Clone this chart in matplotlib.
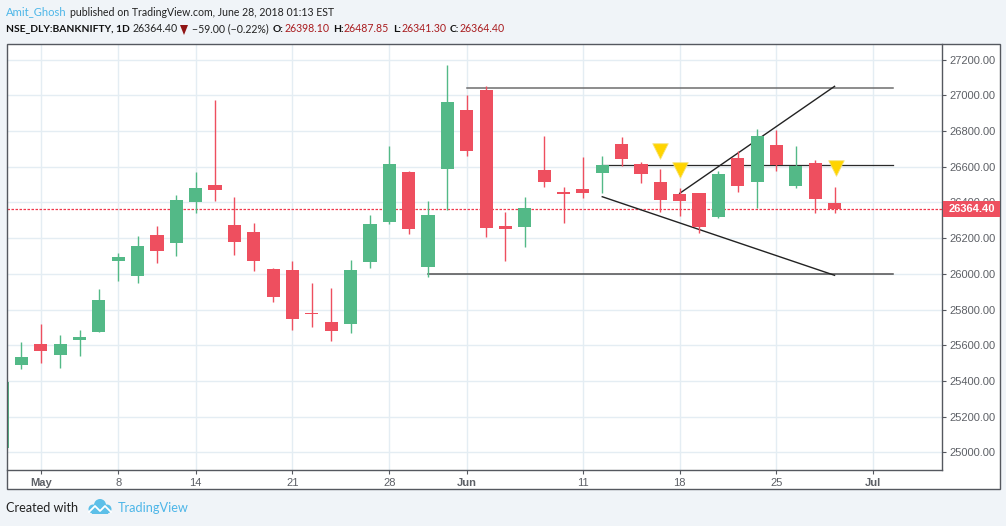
import numpy as np
import matplotlib
matplotlib.use("Agg")
import matplotlib.pyplot as plt
from matplotlib.patches import Rectangle, Circle, Polygon
from matplotlib.lines import Line2D

W, H = 1006, 526

opens = [25027, 25490, 25608, 25546, 25630, 25675, 26072, 25988, 26218, 26173, 26402, 26498,
         26274, 26235, 26027, 26022, 25781, 25731, 25720, 26067, 26290, 26570, 26039, 26587,
         26917, 27029, 26268, 26263, 26582, 26458, 26475, 26565, 26727, 26615, 26514, 26447,
         26453, 26319, 26649, 26514, 26722, 26492, 26621, 26398.10]
closes = [25395, 25535, 25569, 25608, 25647, 25854, 26095, 26156, 26128, 26414, 26481, 26470,
          26179, 26072, 25871, 25748, 25776, 25681, 26022, 26279, 26615, 26251, 26330, 26962,
          26688, 26257, 26251, 26369, 26514, 26447, 26453, 26610, 26643, 26559, 26414, 26408,
          26263, 26559, 26492, 26772, 26610, 26604, 26419, 26364.40]
highs = [25395, 25619, 25720, 25658, 25686, 25916, 26117, 26212, 26268, 26442, 26570, 26973,
         26430, 26285, 26033, 26072, 25949, 25921, 26078, 26330, 26716, 26576, 26408, 27169,
         27001, 27052, 26346, 26430, 26772, 26486, 26654, 26660, 26766, 26626, 26587, 26481,
         26453, 26576, 26688, 26811, 26805, 26716, 26638, 26487.85]
lows = [25027, 25468, 25501, 25473, 25540, 25675, 25960, 25949, 26061, 26100, 26341, 26408,
        26106, 26016, 25843, 25686, 25703, 25624, 25669, 26033, 26279, 26223, 25983, 26358,
        26660, 26207, 26072, 26151, 26486, 26285, 26425, 26453, 26604, 26509, 26346, 26324,
        26229, 26313, 26459, 26369, 26576, 26481, 26341, 26341.30]
last_close = 26364.40

price_ticks = list(range(25000, 27400, 200))
date_ticks = [2, 6, 10, 15, 20, 24, 30, 35, 40, 45]
date_labels = ["May", "8", "14", "21", "28", "Jun", "11", "18", "25", "Jul"]

# drawings: (x0, price0, x1, price1, colour, width)
trend_lines = [
    (24, 27040, 46, 27040, "#6e6e6e", 1.1),
    (31, 26610, 46, 26610, "#2a2a2a", 0.9),
    (22, 26002, 46, 26002, "#505050", 1.1),
    (35, 26451, 43, 27050, "#222222", 1.0),
    (31, 26432, 43, 25992, "#222222", 1.0),
]
marker_x = [34, 35, 43.05]
marker_y = [26688, 26582, 26590]

green = "#53b987"
red = "#ee4f5f"
grid = "#e4edf3"
frame = "#55585f"
grey = "#5d6066"
blue = "#4db6e8"
dark_red = "#a91c1f"
header_font = "Lato"

plt.rcParams["font.family"] = ["Liberation Sans", "DejaVu Sans"]

fig = plt.figure(figsize=(W / 100, H / 100), dpi=100, facecolor="#f0f4f8")


def px_text(x, y, s, **kw):
    kw.setdefault("va", "center")
    kw.setdefault("family", header_font)
    return fig.text(x / W, 1 - y / H, s, **kw)


def px_rect(x0, y0, x1, y1, **kw):
    r = Rectangle((x0 / W, 1 - y1 / H), (x1 - x0) / W, (y1 - y0) / H, transform=fig.transFigure, **kw)
    fig.add_artist(r)
    return r


px_rect(6.5, 44, 999.5, 489, facecolor="white", edgecolor="none", zorder=-1)

ax = fig.add_axes([7 / W, 1 - 470 / H, (942 - 7) / W, (470 - 44) / H], facecolor="white")
ax.set_xlim(0.253, 48.55)
ax.set_ylim(24902, 27287)

ax.set_axisbelow(True)
ax.grid(True, color=grid, lw=1.0)
ax.set_yticks(price_ticks)
ax.set_yticklabels(["%.2f" % p for p in price_ticks])
ax.yaxis.tick_right()
ax.set_xticks(date_ticks)
ax.set_xticklabels(date_labels)
ax.tick_params(axis="both", length=3, width=0.8, color=frame, labelcolor=grey, labelsize=8.0, pad=2.5)
ax.tick_params(axis="x", pad=2.5)
for lab in ax.get_xticklabels():
    if lab.get_text() in ("May", "Jun", "Jul"):
        lab.set_fontweight("bold")

for s in ("top", "left"):
    ax.spines[s].set_visible(False)
for s in ("right", "bottom"):
    ax.spines[s].set_color(frame)
    ax.spines[s].set_linewidth(1.0)

ax.axhline(last_close, color="#f0394c", lw=0.9, ls=(0, (2, 1.2)), zorder=2)

for x0, y0, x1, y1, col, lw in trend_lines:
    ax.plot([x0, x1], [y0, y1], color=col, lw=lw, zorder=2.5)

idx = np.arange(len(opens))
colors = [green if c >= o else red for o, c in zip(opens, closes)]
tops = np.maximum(opens, closes)
bots = np.minimum(opens, closes)
ax.vlines(idx, lows, highs, colors=colors, lw=1.0, zorder=3)
ax.bar(idx, tops - bots, bottom=bots, width=0.68, color=colors, zorder=3)

ax.scatter(marker_x, marker_y, marker="v", s=125, color="#ffd400", edgecolor="#f5e27a", lw=0.6, zorder=5)

# outer frame
px_rect(6.5, 44, 999.5, 489, facecolor="none", edgecolor=frame, lw=1.0, zorder=3)

# last price label on the scale
y_last = H - ax.transData.transform((0, last_close))[1]
px_rect(942.5, y_last - 8, 999.5, y_last + 8, facecolor=red, edgecolor="none", zorder=4)
px_text(972, y_last, "%.2f" % last_close, color="white", fontsize=8.0, fontweight="bold",
        ha="center", family="Liberation Sans", zorder=5)

# header
hs = 7.6
px_text(6, 12, "Amit_Ghosh", color=blue, fontsize=8.1)
px_text(70, 12, "published on TradingView.com, June 28, 2018 01:13 EST", color="#222222", fontsize=hs)
px_text(6, 29, "NSE_DLY:BANKNIFTY, 1D", color="#111111", fontsize=7.4, fontweight="bold")
px_text(133, 29, "26364.40", color="#222222", fontsize=hs)
fig.add_artist(Polygon([(180 / W, 1 - 25 / H), (188 / W, 1 - 25 / H), (184 / W, 1 - 35 / H)],
                       transform=fig.transFigure, facecolor="#8f1414", edgecolor="none"))
px_text(192, 29, "\u221259.00 (\u22120.22%)", color="#222222", fontsize=hs)
for x0, lab, x1, val in [(273, "O:", 285, "26398.10"), (333, "H:", 344, "26487.85"),
                         (393, "L:", 402, "26341.30"), (450, "C:", 460, "26364.40")]:
    px_text(x0, 29, lab, color="#111111", fontsize=7.4, fontweight="bold")
    px_text(x1, 29, val, color=dark_red, fontsize=hs)

# footer
px_text(6, 508, "Created with", color="#222222", fontsize=9.1)
px_text(118, 508, "TradingView", color=blue, fontsize=9.2)
logo = "#5cbfe8"
for cx, cy, r in [(93, 509, 4.5), (100, 505, 6), (107, 509, 4.5)]:
    fig.add_artist(Circle((cx, H - cy), r, transform=None, facecolor=logo, edgecolor="none"))
fig.add_artist(Rectangle((92, H - 514), 16, 5, transform=None, facecolor=logo, edgecolor="none"))
fig.add_artist(Line2D([89, 95, 100, 105, 111], [H - 512, H - 506, H - 511, H - 506, H - 512],
                      transform=None, color="white", lw=1.3))

fig.savefig("out.png", dpi=100, facecolor=fig.get_facecolor())
